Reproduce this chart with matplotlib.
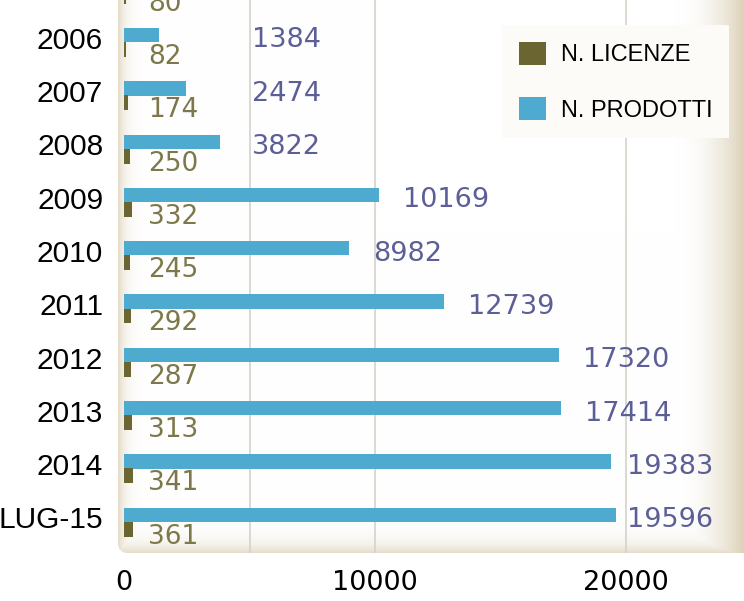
import numpy as np
import matplotlib.pyplot as plt
from matplotlib.patches import FancyBboxPatch, Patch

# data (2005 row is cut off at the top of the picture)
years = ['2005', '2006', '2007', '2008', '2009', '2010',
         '2011', '2012', '2013', '2014', 'LUG-15']
licenze = [80, 82, 174, 250, 332, 245, 292, 287, 313, 341, 361]
prodotti = [np.nan, 1384, 2474, 3822, 10169, 8982, 12739,
            17320, 17414, 19383, 19596]

BLUE = '#4eabcf'
OLIVE = '#6b6631'
BLUE_TXT = '#5c5f97'
OLIVE_TXT = '#7d7849'
BEIGE = np.array([0.85, 0.80, 0.69])

W, H = 744, 601
fig = plt.figure(figsize=(W / 100, H / 100), dpi=100)
fig.patch.set_facecolor('white')

# beige framed panel in the background
bg = fig.add_axes([0, 0, 1, 1])
bg.set_xlim(0, W)
bg.set_ylim(H, 0)
bg.axis('off')
yy, xx = np.mgrid[0:H, 0:W] + 0.5
left = np.exp(-np.clip(xx - 118, 0, None) / 7.0) * 0.75
right = np.clip((xx - 675) / 69.0, 0, 1) ** 2 * 0.9
bottom = np.exp(-np.clip(553 - yy, 0, None) / 9.0) * 0.7
a = np.maximum.reduce([left, right, bottom])[..., None]
img = np.ones((H, W, 3)) * (1 - a) + BEIGE * a
im = bg.imshow(img, extent=(0, W, H, 0), interpolation='bilinear')
panel = FancyBboxPatch((118, -40), 700, 593,
                       boxstyle='round,pad=0,rounding_size=10',
                       transform=bg.transData, fc='none', ec='none')
bg.add_patch(panel)
im.set_clip_path(panel)

# main chart
ax = fig.add_axes([124 / W, (H - 553) / H, 620 / W, 553 / H])
ax.set_facecolor('none')
y = np.arange(len(years))
prod = np.array(prodotti, dtype=float)
ok = ~np.isnan(prod)

for g in [5000, 10000, 20000]:
    ax.axvline(g, color='#d6d2cb', lw=1.2, zorder=1)

ax.barh(y[ok] - 0.12, prod[ok], height=0.27, color=BLUE, zorder=3)
ax.barh(y + 0.15, licenze, height=0.28, color=OLIVE, zorder=3)

for i in range(len(years)):
    if ok[i]:
        lx = np.clip(prod[i] + 950, 5100, 20050)
        ax.text(lx, y[i] - 0.02, f'{prod[i]:.0f}', ha='left', va='center',
                color=BLUE_TXT, fontsize=19.5, family='DejaVu Sans', zorder=4)
    ax.text(950, y[i] + 0.29, str(licenze[i]), ha='left', va='center',
            color=OLIVE_TXT, fontsize=19, family='DejaVu Sans', zorder=4)

ax.set_yticks(y[1:] - 0.07)
ax.set_yticklabels(years[1:], fontsize=21.5, family='Liberation Sans')
ax.set_xticks([0, 10000, 20000])
ax.set_xticklabels(['0', '10000', '20000'], fontsize=19.5, family='DejaVu Sans')
ax.set_xlim(0, 24700)
ax.set_ylim(10.597, 0.2214)
ax.tick_params(axis='y', length=0, pad=15)
ax.tick_params(axis='x', length=0, pad=12)
for s in ax.spines.values():
    s.set_visible(False)

handles = [Patch(facecolor=OLIVE), Patch(facecolor=BLUE)]
leg = ax.legend(handles, ['N. LICENZE', 'N. PRODOTTI'], loc='upper left',
                bbox_to_anchor=(502 / W, 1 - 25 / H), bbox_transform=fig.transFigure,
                prop={'family': 'Liberation Sans', 'size': 17},
                handlelength=1.15, handleheight=1.15, handletextpad=0.65,
                labelspacing=1.3, borderpad=0.7, borderaxespad=0,
                fancybox=False, facecolor='#fcfbf8', edgecolor='none',
                framealpha=1)
leg.set_zorder(6)

fig.savefig('out.png', dpi=100)
